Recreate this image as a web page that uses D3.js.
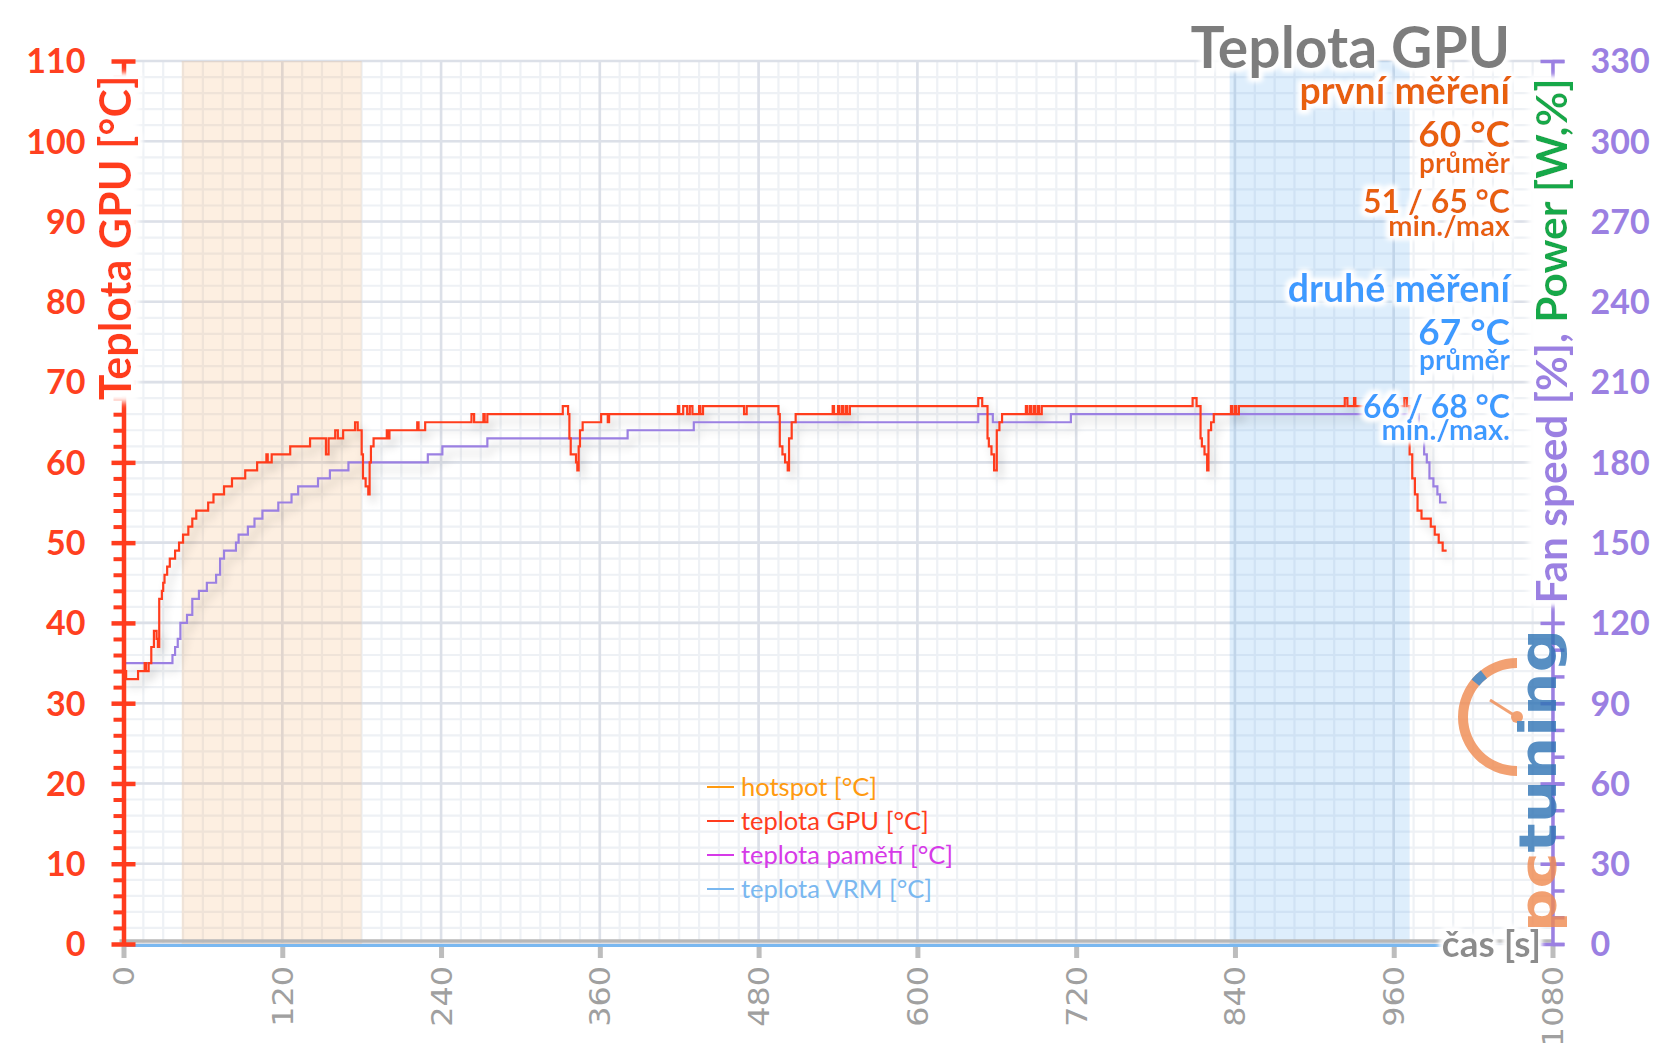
<!DOCTYPE html>
<html><head><meta charset="utf-8">
<script src="https://cdn.jsdelivr.net/npm/d3@7/dist/d3.min.js"></script>
<style>html,body{margin:0;padding:0;background:#fff;}svg{display:block;}</style>
</head><body><svg id="chart" width="1656" height="1043"></svg>
<script>
// ---------- data ----------
const gpuTime = [0,2,11,16,17,19,21,23,25,26,27,29,30,31,33,35,39,42,45,49,52,55,64,68,76,82,92,101,108,109,112,126,141,153,155,160,162,166,175,177,180,181,183,185,186,187,189,199,200,201,222,223,228,263,265,272,273,275,332,336,337,338,342,343,344,345,347,361,366,367,419,420,423,426,428,430,435,436,438,469,471,495,496,498,500,502,503,505,508,536,537,540,541,543,544,546,547,549,646,649,653,654,656,658,660,662,664,682,683,685,686,688,689,691,692,694,808,811,814,815,817,819,820,822,824,837,838,840,841,843,923,925,930,931,968,970,972,974,976,978,981,988,991,994,997,1000];
const gpuTemp = [34,33,34,35,34,35,37,39,38,37,43,44,45,46,47,48,49,50,51,52,53,54,55,56,57,58,59,60,61,60,61,62,63,61,63,64,63,64,65,64,61,58,57,56,60,62,63,64,63,64,65,64,65,66,65,66,65,66,67,66,63,61,60,59,62,64,65,66,65,66,67,66,67,66,67,66,67,66,67,66,67,66,62,61,60,59,63,65,66,67,66,67,66,67,66,67,66,67,68,67,63,62,61,59,64,65,66,67,66,67,66,67,66,67,66,67,68,67,63,62,61,59,64,65,66,67,66,67,66,67,68,67,68,67,68,67,61,58,56,54,53,52,51,50,49,49];
const memTime = [0,37,39,41,43,48,52,57,63,70,73,76,85,87,94,99,105,117,127,132,147,156,170,230,241,275,381,431,646,657,716,979,981,983,985,987,990,993,995,1000];
const memTemp = [35,36,37,38,40,41,43,44,45,46,48,49,50,51,52,53,54,55,56,57,58,59,60,61,62,63,64,65,66,65,66,64,63,61,60,58,57,56,55,55];
const vrmTime = [0,1000];
const vrmTemp = [0,0];
const xTicks = [0,120,240,360,480,600,720,840,960,1080];
const yTicksLeft = [0,10,20,30,40,50,60,70,80,90,100,110];
const yTicksRight = [0,30,60,90,120,150,180,210,240,270,300,330];
const legendLabels = ["hotspot [°C]","teplota GPU [°C]","teplota pamětí [°C]","teplota VRM [°C]"];
const legendColors = ["#ff9a10","#ff3c1e","#d63ae8","#7ab8f0"];
const bandFirst = [44,180];
const bandSecond = [836,972];
const statsFirst = ["první měření","60 °C","průměr","51 / 65 °C","min./max"];
const statsSecond = ["druhé měření","67 °C","průměr","66 / 68 °C","min./max."];

// ---------- setup ----------
const svg = d3.select("#chart");
const x = d3.scaleLinear().domain([0,1080]).range([123.5,1552.5]);
const y = d3.scaleLinear().domain([0,110]).range([944,61]);
const yR = d3.scaleLinear().domain([0,330]).range([944,61]);
const RED = "#ff3c1e", PURP = "#9b80e2";

const defs = svg.append("defs");
const glow = defs.append("filter").attr("id","glow").attr("x","-20%").attr("y","-40%").attr("width","140%").attr("height","180%");
glow.append("feMorphology").attr("in","SourceAlpha").attr("operator","dilate").attr("radius",2.5).attr("result","d");
glow.append("feGaussianBlur").attr("in","d").attr("stdDeviation",2.5).attr("result","b");
glow.append("feFlood").attr("flood-color","#fff").attr("result","f");
glow.append("feComposite").attr("in","f").attr("in2","b").attr("operator","in").attr("result","w");
const gm = glow.append("feMerge");
gm.append("feMergeNode").attr("in","w");gm.append("feMergeNode").attr("in","w");gm.append("feMergeNode").attr("in","SourceGraphic");

const soft = defs.append("filter").attr("id","soft").attr("x","-30%").attr("y","-30%").attr("width","160%").attr("height","160%");
soft.append("feGaussianBlur").attr("stdDeviation",3);

const sh = defs.append("filter").attr("id","shadow").attr("x","-5%").attr("y","-10%").attr("width","110%").attr("height","130%");
sh.append("feGaussianBlur").attr("in","SourceAlpha").attr("stdDeviation",5).attr("result","bl");
sh.append("feOffset").attr("in","bl").attr("dx",4).attr("dy",7).attr("result","of");
sh.append("feComponentTransfer").attr("in","of").attr("result","sa").append("feFuncA").attr("type","linear").attr("slope",0.2);
const sm = sh.append("feMerge");
sm.append("feMergeNode").attr("in","sa");sm.append("feMergeNode").attr("in","SourceGraphic");

svg.append("rect").attr("width",1656).attr("height",1043).attr("fill","#fff");

// ---------- grid ----------
const grid = svg.append("g");
grid.selectAll(".hm").data(d3.range(0,111,2)).join("line")
  .attr("x1",x(0)).attr("x2",x(1080)).attr("y1",d=>y(d)).attr("y2",d=>y(d))
  .attr("stroke","#eef1f5").attr("stroke-width",2.2);
grid.selectAll(".vm").data(d3.range(0,1081,15)).join("line")
  .attr("x1",d=>x(d)).attr("x2",d=>x(d)).attr("y1",y(110)).attr("y2",y(0))
  .attr("stroke","#eef1f5").attr("stroke-width",2.2);
grid.selectAll(".hM").data(yTicksLeft).join("line")
  .attr("x1",x(0)).attr("x2",x(1080)).attr("y1",d=>y(d)).attr("y2",d=>y(d))
  .attr("stroke","#dce0e8").attr("stroke-width",2.6);
grid.selectAll(".vM").data(xTicks).join("line")
  .attr("x1",d=>x(d)).attr("x2",d=>x(d)).attr("y1",y(110)).attr("y2",y(0))
  .attr("stroke","#dce0e8").attr("stroke-width",2.6);

// ---------- bands ----------
svg.append("rect").attr("x",x(bandFirst[0])).attr("width",x(bandFirst[1])-x(bandFirst[0]))
  .attr("y",y(110)).attr("height",y(0)-y(110)).attr("fill","rgba(245,160,80,0.17)");
svg.append("rect").attr("x",x(bandSecond[0])).attr("width",x(bandSecond[1])-x(bandSecond[0]))
  .attr("y",y(110)).attr("height",y(0)-y(110)).attr("fill","rgba(80,165,240,0.19)");

// ---------- x axis ----------
svg.append("line").attr("x1",x(0)-4).attr("x2",x(1080)).attr("y1",y(0)-3).attr("y2",y(0)-3)
  .attr("stroke","#b8b8b8").attr("stroke-width",3.5);
const xa = svg.append("g").attr("transform",`translate(0,${y(0)})`)
  .call(d3.axisBottom(x).tickValues(xTicks).tickSize(14).tickSizeOuter(0).tickFormat(""));
xa.select(".domain").remove();
xa.selectAll(".tick line").attr("stroke","#bdbdbd").attr("stroke-width",5);
svg.append("g").selectAll("text").data(xTicks).join("text")
  .attr("transform",d=>`translate(${x(d)},966) rotate(-90) scale(1.1,1)`)
  .attr("text-anchor","end").attr("dy","0.36em")
  .attr("font-family","DejaVu Sans").attr("font-size",29).attr("fill","#a0a0a0")
  .text(d=>d);

// ---------- lines ----------
const lineL = d3.line().x(d=>x(d[0])).y(d=>y(d[1])).curve(d3.curveStepAfter);
const linesG = svg.append("g").attr("filter","url(#shadow)");
linesG.append("path").datum(d3.zip(memTime,memTemp)).attr("d",lineL)
  .attr("fill","none").attr("stroke",PURP).attr("stroke-width",2.2);
linesG.append("path").datum(d3.zip(gpuTime,gpuTemp)).attr("d",lineL)
  .attr("fill","none").attr("stroke",RED).attr("stroke-width",2.2);
svg.append("path").datum(d3.zip(vrmTime,vrmTemp)).attr("d",d3.line().x(d=>x(d[0])).y(d=>y(d[1])+1.5))
  .attr("fill","none").attr("stroke","#7ab8f0").attr("stroke-width",3);

// ---------- left axis ----------
const la = svg.append("g").attr("transform",`translate(${x(0)},0)`);
la.call(d3.axisLeft(y).tickValues(d3.range(0,110,2).filter(v=>v%10)).tickSize(10).tickSizeOuter(0).tickFormat(""));
la.selectAll(".tick line").attr("stroke",RED).attr("stroke-width",4);
la.select(".domain").attr("stroke",RED).attr("stroke-width",4.5);
const laM = svg.append("g").attr("transform",`translate(${x(0)},0)`)
  .call(d3.axisLeft(y).tickValues(yTicksLeft).tickSize(12).tickSizeOuter(0).tickPadding(26));
laM.select(".domain").remove();
laM.selectAll(".tick line").attr("x2",12).attr("x1",-12).attr("stroke",RED).attr("stroke-width",4.5);
laM.selectAll(".tick text").attr("font-family","Lato").attr("font-weight",700).attr("font-size",34)
  .attr("fill","#ff4020").attr("dy","0.35em");

// ---------- right axis ----------
const ra = svg.append("g").attr("transform",`translate(${x(1080)},0)`);
ra.call(d3.axisRight(yR).tickValues(d3.range(0,331,10)).tickSize(12).tickSizeOuter(0).tickFormat(""));
ra.selectAll(".tick line").attr("stroke",PURP).attr("stroke-width",3.5);
ra.select(".domain").attr("stroke",PURP).attr("stroke-width",3.5);
const raM = svg.append("g").attr("transform",`translate(${x(1080)},0)`)
  .call(d3.axisRight(yR).tickValues(yTicksRight).tickSize(12).tickSizeOuter(0).tickPadding(26));
raM.select(".domain").remove();
raM.selectAll(".tick line").attr("x1",-12).attr("stroke",PURP).attr("stroke-width",3.5);
raM.selectAll(".tick text").attr("font-family","Lato").attr("font-weight",700).attr("font-size",34)
  .attr("fill",PURP).attr("dy","0.35em");

// ---------- legend ----------
const lg = svg.append("g").attr("font-family","Lato").attr("font-size",25.5);
legendLabels.forEach((t,i)=>{
  const yy = 787 + i*34;
  lg.append("line").attr("x1",707).attr("x2",734).attr("y1",yy).attr("y2",yy).attr("stroke",legendColors[i]).attr("stroke-width",2);
  lg.append("text").attr("x",741).attr("y",yy).attr("dy","0.35em").attr("fill",legendColors[i]).text(t);
});

// ---------- axis titles (with white halo backing) ----------
function haloLabel(transform, size, build){
  const g = svg.append("g").attr("transform",transform);
  const r = g.append("rect").attr("fill","#fff").attr("filter","url(#soft)");
  const t = g.append("text").attr("text-anchor","middle").attr("font-family","Lato")
    .attr("font-weight",700).attr("font-size",size).attr("filter","url(#glow)");
  build(t);
  const bb = t.node().getBBox();
  r.attr("x",bb.x-2).attr("y",bb.y+3).attr("width",bb.width+4).attr("height",bb.height-4);
  return g;
}
haloLabel("translate(131,238) rotate(-90)",43,t=>t.attr("fill",RED).text("Teplota GPU [°C]"));
haloLabel("translate(1567,341) rotate(-90)",42.4,t=>{
  t.append("tspan").attr("fill",PURP).text("Fan speed [%], ");
  t.append("tspan").attr("fill","#12a84a").text("Power [W,%]");
});
svg.append("text").attr("x",1541).attr("y",957).attr("text-anchor","end")
  .attr("font-family","Lato").attr("font-weight",700).attr("font-size",37).attr("fill","#8c8c8c")
  .attr("filter","url(#glow)").text("čas [s]");

// ---------- title and stats ----------
const tg = svg.append("g").attr("font-family","Lato").attr("font-weight",700).attr("text-anchor","end").attr("filter","url(#glow)");
tg.append("text").attr("x",1510).attr("y",68).attr("font-size",57).attr("fill","#7d7d7d").text("Teplota GPU");
const sizes = [37.5,37,28,32,29];
const base1 = [104,147,173,213,236];
const base2 = [302,345,370,418,440];
statsFirst.forEach((t,i)=>tg.append("text").attr("x",1510).attr("y",base1[i]).attr("font-size",sizes[i]).attr("fill","#e8600c").text(t));
statsSecond.forEach((t,i)=>tg.append("text").attr("x",1510).attr("y",base2[i]).attr("font-size",sizes[i]).attr("fill","#3d9bff").text(t));

// ---------- watermark logo ----------
const logo = svg.append("g").attr("opacity",0.8);
logo.append("path").attr("transform","translate(1517,717)")
  .attr("d",d3.arc()({innerRadius:49,outerRadius:59,startAngle:Math.PI,endAngle:2*Math.PI}))
  .attr("fill","#f08a50");
logo.append("path").attr("transform","translate(1517,717)")
  .attr("d",d3.arc()({innerRadius:49,outerRadius:59,startAngle:1.72*Math.PI,endAngle:1.79*Math.PI}))
  .attr("fill","#2f74b5");
logo.append("line").attr("x1",1517).attr("y1",717).attr("x2",1490).attr("y2",700).attr("stroke","#f08a50").attr("stroke-width",3);
logo.append("circle").attr("cx",1517).attr("cy",717).attr("r",6).attr("fill","#f08a50");
const lt = logo.append("text").attr("transform","translate(1556,932) rotate(-90)")
  .attr("font-family","DejaVu Sans").attr("font-weight",700).attr("font-size",52)
  .attr("textLength",303).attr("lengthAdjust","spacingAndGlyphs");
lt.append("tspan").attr("fill","#f08a50").text("pc");
lt.append("tspan").attr("fill","#2f74b5").text("tuning");
</script></body></html>
